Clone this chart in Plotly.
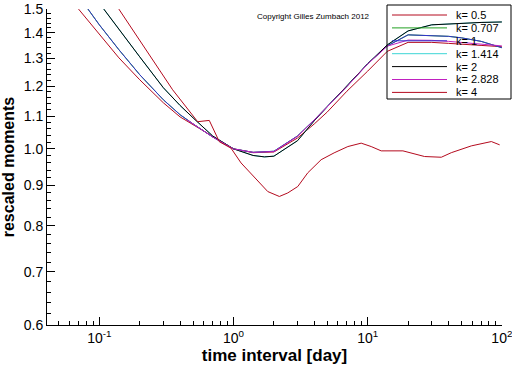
import plotly.graph_objects as go

# ---------------- data ----------------
k_labels = ["k= 0.5", "k= 0.707", "k= 1", "k= 1.414", "k= 2", "k= 2.828", "k= 4"]
colors = ["#b40a1e", "#22a022", "#3232cc", "#3cd6d6", "#000000", "#c020c0", "#b40a1e"]

x_k05 = [0.07, 0.08, 0.1, 0.14, 0.2, 0.3, 0.4, 0.5, 0.7, 1, 1.4, 2, 3, 4, 5, 7, 10, 14, 20, 30, 40, 50, 70, 100]
y_k05 = [1.50, 1.460, 1.392, 1.302, 1.222, 1.143, 1.097, 1.072, 1.035, 1.0, 0.989, 0.991, 1.032, 1.075, 1.113,
         1.182, 1.253, 1.327, 1.362, 1.362, 1.358, 1.354, 1.350, 1.345]

x_k1 = [0.08, 0.1, 0.14, 0.2, 0.3, 0.4, 0.5, 0.7, 1, 1.4, 2, 3, 4, 5, 7, 10, 14, 20, 30, 40, 50, 70, 100]
y_k1 = [1.51, 1.433, 1.333, 1.240, 1.153, 1.104, 1.075, 1.035, 1.0, 0.990, 0.993, 1.038, 1.088, 1.130,
        1.199, 1.280, 1.348, 1.392, 1.390, 1.386, 1.380, 1.366, 1.341]

# k=0.707 and k=1.414 lie underneath the k=1 and k=2 curves
x_k0707 = x_k1
y_k0707 = y_k1

x_k2 = [0.108, 0.14, 0.2, 0.3, 0.4, 0.5, 0.7, 1, 1.4, 1.7, 2, 3, 4, 5, 7, 10, 14, 20, 30, 40, 50, 70, 100]
y_k2 = [1.50, 1.414, 1.306, 1.194, 1.134, 1.094, 1.038, 1.0, 0.981, 0.977, 0.979, 1.024, 1.085, 1.130,
        1.199, 1.280, 1.352, 1.408, 1.433, 1.437, 1.441, 1.443, 1.445]

x_k1414 = x_k2
y_k1414 = y_k2

x_k2828 = [0.45, 0.5, 0.7, 1, 1.4, 2, 3, 4, 5, 7, 10, 14, 20, 30, 40, 50, 70, 100]
y_k2828 = [1.088, 1.075, 1.035, 1.0, 0.990, 0.992, 1.037, 1.087, 1.129, 1.198, 1.279, 1.347, 1.371, 1.370,
           1.366, 1.362, 1.356, 1.348]

x_k4 = [0.1398, 0.2877, 0.3518, 0.5406, 0.6597, 0.7835, 0.958, 1.138, 1.422, 1.800, 2.196, 2.538, 3.013,
        3.579, 4.498, 5.623, 7.115, 8.943, 10.62, 12.61, 18.31, 26.54, 35.36, 42.0, 59.2, 83.5, 96.3]
y_k4 = [1.50, 1.247, 1.187, 1.082, 1.086, 1.021, 1.002, 0.960, 0.922, 0.8835, 0.871, 0.880, 0.8965,
        0.933, 0.969, 0.9885, 1.0067, 1.0167, 1.0067, 0.9942, 0.9942, 0.978, 0.976, 0.989, 1.0087, 1.0214, 1.0117]

y_tickvals = [0.6, 0.7, 0.8, 0.9, 1.0, 1.1, 1.2, 1.3, 1.4, 1.5]
y_ticktext = ["0.6", "0.7", "0.8", "0.9", "1.0", "1.1", "1.2", "1.3", "1.4", "1.5"]
x_tickvals = [0.1, 1, 10, 100]
x_ticktext = ["10<sup>-1</sup>", "10<sup>0</sup>", "10<sup>1</sup>", "10<sup>2</sup>"]

series = [(x_k05, y_k05), (x_k0707, y_k0707), (x_k1, y_k1), (x_k1414, y_k1414),
          (x_k2, y_k2), (x_k2828, y_k2828), (x_k4, y_k4)]

# ---------------- figure ----------------
W, H = 512, 366
L, R, T, B = 47, 10, 9, 41
PW, PH = W - L - R, H - T - B


def px(xp):
    return (xp - L) / PW


def py(yp):
    return (H - B - yp) / PH


fig = go.Figure()
for (xs, ys), name, c in zip(series, k_labels, colors):
    fig.add_trace(go.Scatter(x=xs, y=ys, mode="lines", name=name,
                             line=dict(color=c, width=1), showlegend=False))

y_minor = [round(0.6 + 0.02 * i, 2) for i in range(46)]
y_minor = [v for v in y_minor if abs(round(v * 10) - v * 10) > 1e-6]
x_minor = [m * 10 ** e for e in range(-2, 2) for m in range(2, 10)]

font = "Liberation Sans, Arial, sans-serif"
fig.update_layout(
    width=W, height=H,
    margin=dict(l=L, r=R, t=T, b=B, pad=0),
    paper_bgcolor="white", plot_bgcolor="white",
    font=dict(family=font, color="black", size=14),
    xaxis=dict(type="log", range=[-1.39, 2.001], tickvals=x_tickvals, ticktext=x_ticktext,
               automargin=False, ticklabeloverflow="allow",
               showgrid=False, zeroline=False, showline=True, linecolor="black", linewidth=1,
               ticks="inside", ticklen=8, tickcolor="black", mirror=False,
               tickfont=dict(size=14, family=font),
               minor=dict(tickvals=x_minor, ticks="inside", ticklen=4, tickcolor="black", showgrid=False),
               title=dict(text="<b>time interval [day]</b>", font=dict(size=17, family=font), standoff=0)),
    yaxis=dict(type="log", range=[-0.2219, 0.1762], tickvals=y_tickvals, ticktext=y_ticktext,
               automargin=False, ticklabeloverflow="allow",
               showgrid=False, zeroline=False, showline=True, linecolor="black", linewidth=1,
               ticks="inside", ticklen=8, tickcolor="black", mirror=False,
               tickfont=dict(size=14, family=font),
               minor=dict(tickvals=y_minor, ticks="inside", ticklen=4, tickcolor="black", showgrid=False),
               title=dict(text="<b>rescaled moments</b>", font=dict(size=16, family=font), standoff=5)),
    showlegend=False,
)

# legend box (drawn by hand for the compact 13 px rows)
fig.add_shape(type="rect", xref="paper", yref="paper",
              x0=px(387), x1=px(511), y0=py(99), y1=py(5),
              line=dict(color="black", width=1), fillcolor="rgba(0,0,0,0)")
for i, (name, c) in enumerate(zip(k_labels, colors)):
    yy = 15 + 12.9 * i
    fig.add_shape(type="line", xref="paper", yref="paper",
                  x0=px(392), x1=px(447), y0=py(yy), y1=py(yy),
                  line=dict(color=c, width=1))
    fig.add_annotation(xref="paper", yref="paper", x=px(455), y=py(yy),
                       xanchor="left", yanchor="middle", text=name, showarrow=False,
                       borderpad=0, font=dict(size=11, family=font, color="black"))

fig.add_annotation(xref="paper", yref="paper", x=px(255), y=py(16), xanchor="left", yanchor="middle",
                   text="Copyright Gilles Zumbach 2012", showarrow=False,
                   font=dict(size=8, family=font, color="black"))

fig.write_html("out.html", config={"displayModeBar": False},
               post_script="document.body.style.margin='0px';")
